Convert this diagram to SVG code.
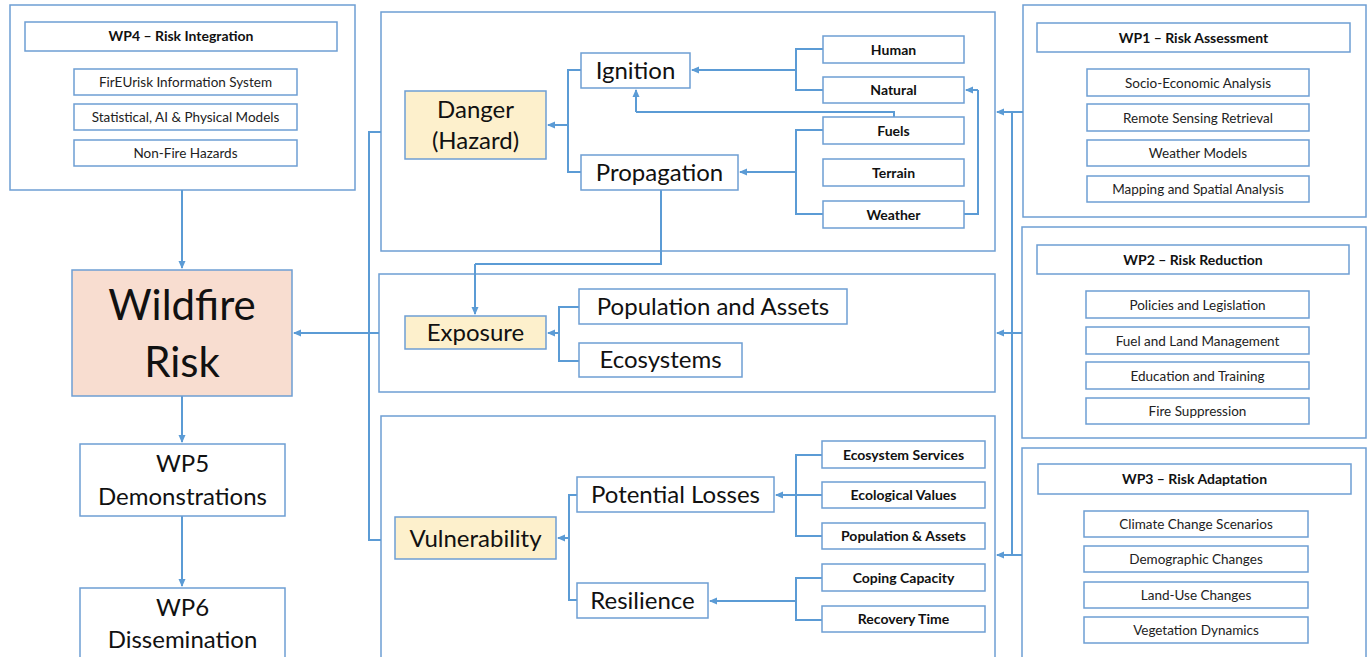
<svg xmlns="http://www.w3.org/2000/svg" width="1367" height="657" viewBox="0 0 1367 657">
<style>
.bx{fill:#fff;stroke:#6E9ED3;stroke-width:1.5}
.yl{fill:#FDF0CC;stroke:#6E9ED3;stroke-width:1.5}
.pk{fill:#F8DDD0;stroke:#6E9ED3;stroke-width:1.5}
.ln{fill:none;stroke:#5B9BD5;stroke-width:2}
.ar{fill:none;stroke:#5B9BD5;stroke-width:2;marker-end:url(#ah)}
text{font-family:Lato,"Liberation Sans",sans-serif;fill:#111;text-anchor:middle}
.t13{font-size:13.5px;fill:#222}
.b14{font-size:14px;font-weight:bold}
.t24{font-size:24px}
</style>
<defs>
<marker id="ah" markerWidth="8" markerHeight="8" refX="7" refY="4" orient="auto" markerUnits="userSpaceOnUse">
<path d="M0,0.5 L8,4 L0,7.5 Z" fill="#5B9BD5"/>
</marker>
</defs>
<rect width="1367" height="657" fill="#fff"/>

<g id="containers">
<rect class="bx" x="10" y="5" width="345" height="185"/>
<rect class="bx" x="381" y="12" width="614" height="239"/>
<rect class="bx" x="379" y="274" width="616" height="118"/>
<rect class="bx" x="381" y="416" width="614" height="250"/>
<rect class="bx" x="1023" y="5" width="343" height="212"/>
<rect class="bx" x="1022" y="227" width="344" height="211"/>
<rect class="bx" x="1022" y="448" width="344" height="220"/>
</g>

<g id="connectors">
<path class="ar" d="M182,190 V268"/>
<path class="ar" d="M182,396 V442"/>
<path class="ar" d="M182,516 V586"/>
<path class="ln" d="M381,132 H369 V540 H381"/>
<path class="ar" d="M369,333 H294"/>
<path class="ln" d="M379,333 H369"/>
<path class="ln" d="M581,70 H568 V172 H581"/>
<path class="ar" d="M568,125 H548"/>
<path class="ln" d="M823,49 H796 V90 H823"/>
<path class="ar" d="M796,70 H692"/>
<path class="ln" d="M894,117 V112 H636"/>
<path class="ar" d="M636,112 V90"/>
<path class="ln" d="M823,130 H796 V214 H823"/>
<path class="ar" d="M796,172 H740"/>
<path class="ln" d="M964,214 H978 V90"/>
<path class="ar" d="M978,90 H966"/>
<path class="ln" d="M661,190 V264 H475"/>
<path class="ar" d="M475,264 V314"/>
<path class="ln" d="M579,307 H559 V361 H579"/>
<path class="ar" d="M559,333 H548"/>
<path class="ln" d="M577,495 H569 V600 H577"/>
<path class="ar" d="M569,538 H558"/>
<path class="ln" d="M822,455 H796 V536 H822"/>
<path class="ln" d="M822,495 H796"/>
<path class="ar" d="M796,495 H776"/>
<path class="ln" d="M822,578 H796 V620 H822"/>
<path class="ar" d="M796,601 H710"/>
<path class="ln" d="M1023,112 H1012 V555 H1022"/>
<path class="ln" d="M1022,333 H1012"/>
<path class="ar" d="M1012,112 H997"/>
<path class="ar" d="M1012,333 H997"/>
<path class="ar" d="M1012,555 H997"/>
</g>

<g id="wp4">
<rect class="bx" x="25" y="22" width="312" height="29"/>
<text class="b14" x="181" y="41">WP4 – Risk Integration</text>
<rect class="bx" x="74" y="69" width="223" height="26"/>
<text class="t13" x="185.5" y="87">FirEUrisk Information System</text>
<rect class="bx" x="74" y="104" width="223" height="26"/>
<text class="t13" x="185.5" y="122">Statistical, AI &amp; Physical Models</text>
<rect class="bx" x="74" y="140" width="223" height="26"/>
<text class="t13" x="185.5" y="158">Non-Fire Hazards</text>
</g>

<g id="wildfire-risk">
<rect class="pk" x="72" y="270" width="220" height="126"/>
<text x="182" y="320" style="font-size:42px">Wildfire</text>
<text x="182" y="377" style="font-size:42px">Risk</text>
</g>

<g id="wp5">
<rect class="bx" x="80" y="444" width="205" height="72"/>
<text class="t24" x="182.5" y="472">WP5</text>
<text class="t24" x="182.5" y="505">Demonstrations</text>
</g>

<g id="wp6">
<rect class="bx" x="80" y="588" width="205" height="80"/>
<text class="t24" x="182.5" y="616">WP6</text>
<text class="t24" x="182.5" y="648">Dissemination</text>
</g>

<g id="danger">
<rect class="yl" x="405" y="91" width="141" height="68"/>
<text class="t24" x="475.5" y="118">Danger</text>
<text class="t24" x="475.5" y="149">(Hazard)</text>
</g>
<g id="ignition">
<rect class="bx" x="581" y="53" width="109" height="35"/>
<text class="t24" x="635.5" y="79">Ignition</text>
</g>
<g id="propagation">
<rect class="bx" x="581" y="155" width="157" height="35"/>
<text class="t24" x="659.5" y="181">Propagation</text>
</g>
<g id="human"><rect class="bx" x="823" y="36" width="141" height="27"/><text class="b14" x="893.5" y="54.5">Human</text></g>
<g id="natural"><rect class="bx" x="823" y="77" width="141" height="26"/><text class="b14" x="893.5" y="95">Natural</text></g>
<g id="fuels"><rect class="bx" x="823" y="117" width="141" height="27"/><text class="b14" x="893.5" y="135.5">Fuels</text></g>
<g id="terrain"><rect class="bx" x="823" y="159" width="141" height="27"/><text class="b14" x="893.5" y="177.5">Terrain</text></g>
<g id="weather"><rect class="bx" x="823" y="201" width="141" height="27"/><text class="b14" x="893.5" y="219.5">Weather</text></g>

<g id="exposure">
<rect class="yl" x="405" y="316" width="141" height="33"/>
<text class="t24" x="475.5" y="341">Exposure</text>
</g>
<g id="population-assets">
<rect class="bx" x="579" y="289" width="268" height="35"/>
<text class="t24" x="713" y="315">Population and Assets</text>
</g>
<g id="ecosystems">
<rect class="bx" x="579" y="343" width="163" height="34"/>
<text class="t24" x="660.5" y="368">Ecosystems</text>
</g>

<g id="vulnerability">
<rect class="yl" x="395" y="517" width="161" height="42"/>
<text class="t24" x="475.5" y="547">Vulnerability</text>
</g>
<g id="potential-losses">
<rect class="bx" x="577" y="477" width="197" height="35"/>
<text class="t24" x="675.5" y="503">Potential Losses</text>
</g>
<g id="resilience">
<rect class="bx" x="577" y="583" width="131" height="35"/>
<text class="t24" x="642.5" y="609">Resilience</text>
</g>
<g id="ecosystem-services"><rect class="bx" x="822" y="441" width="163" height="27"/><text class="b14" x="903.5" y="459.5">Ecosystem Services</text></g>
<g id="ecological-values"><rect class="bx" x="822" y="482" width="163" height="26"/><text class="b14" x="903.5" y="500">Ecological Values</text></g>
<g id="population-assets-v"><rect class="bx" x="822" y="523" width="163" height="26"/><text class="b14" x="903.5" y="541">Population &amp; Assets</text></g>
<g id="coping-capacity"><rect class="bx" x="822" y="564" width="163" height="27"/><text class="b14" x="903.5" y="582.5">Coping Capacity</text></g>
<g id="recovery-time"><rect class="bx" x="822" y="606" width="163" height="26"/><text class="b14" x="903.5" y="624">Recovery Time</text></g>

<g id="wp1">
<rect class="bx" x="1037" y="23" width="313" height="29"/>
<text class="b14" x="1193.5" y="42.5">WP1 – Risk Assessment</text>
<rect class="bx" x="1087" y="69" width="222" height="27"/>
<text class="t13" x="1198" y="87.5">Socio-Economic Analysis</text>
<rect class="bx" x="1087" y="104" width="222" height="27"/>
<text class="t13" x="1198" y="122.5">Remote Sensing Retrieval</text>
<rect class="bx" x="1087" y="140" width="222" height="26"/>
<text class="t13" x="1198" y="158">Weather Models</text>
<rect class="bx" x="1087" y="176" width="222" height="26"/>
<text class="t13" x="1198" y="194">Mapping and Spatial Analysis</text>
</g>

<g id="wp2">
<rect class="bx" x="1037" y="245" width="312" height="29"/>
<text class="b14" x="1193" y="264.5">WP2 – Risk Reduction</text>
<rect class="bx" x="1086" y="291" width="223" height="27"/>
<text class="t13" x="1197.5" y="309.5">Policies and Legislation</text>
<rect class="bx" x="1086" y="327" width="223" height="27"/>
<text class="t13" x="1197.5" y="345.5">Fuel and Land Management</text>
<rect class="bx" x="1086" y="362" width="223" height="27"/>
<text class="t13" x="1197.5" y="380.5">Education and Training</text>
<rect class="bx" x="1086" y="398" width="223" height="26"/>
<text class="t13" x="1197.5" y="416">Fire Suppression</text>
</g>

<g id="wp3">
<rect class="bx" x="1038" y="464" width="313" height="30"/>
<text class="b14" x="1194.5" y="484">WP3 – Risk Adaptation</text>
<rect class="bx" x="1084" y="511" width="224" height="26"/>
<text class="t13" x="1196" y="529">Climate Change Scenarios</text>
<rect class="bx" x="1084" y="546" width="224" height="26"/>
<text class="t13" x="1196" y="564">Demographic Changes</text>
<rect class="bx" x="1084" y="582" width="224" height="26"/>
<text class="t13" x="1196" y="600">Land-Use Changes</text>
<rect class="bx" x="1084" y="617" width="224" height="26"/>
<text class="t13" x="1196" y="635">Vegetation Dynamics</text>
</g>
</svg>
